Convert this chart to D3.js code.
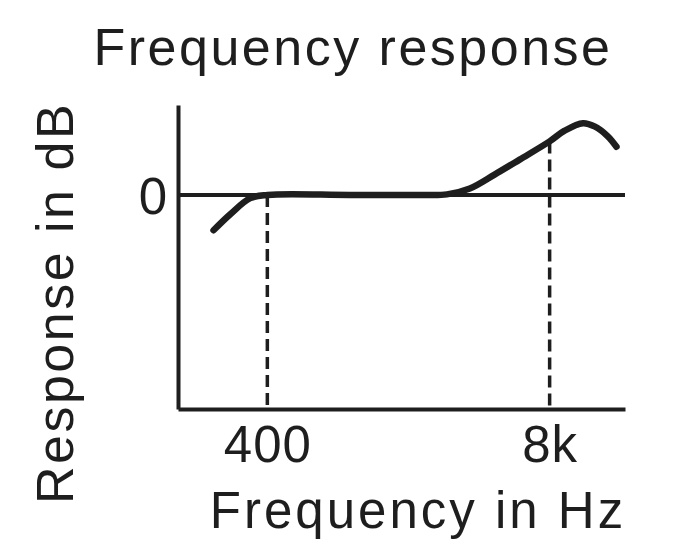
<!DOCTYPE html>
<html>
<head>
<meta charset="utf-8">
<script src="https://cdn.jsdelivr.net/npm/d3@7"></script>
<style>
	body { margin: 0; background: #fff; }
	text { font-family: "Liberation Sans", Arial, sans-serif; fill: #1e1e1e; }
	.axis path { stroke: #1e1e1e; stroke-width: 4; }
	.axis text { font-size: 51px; letter-spacing: 1px; }
</style>
</head>
<body>
<div id="chart"></div>
<script>
// values (frequency in Hz, response in dB)
var freqs = [226, 270, 334, 400, 960, 2000, 2690, 3430, 4460, 5820, 8000, 9380, 11400, 12880, 14790, 16260];
var responseDb = [-3.3, -1.8, -0.3, 0, 0, 0, 0.05, 0.6, 1.9, 3.3, 5.0, 6.0, 6.7, 6.4, 5.5, 4.5];
var markedFreqs = [400, 8000];
var markedLabels = ['400', '8k'];

var width = 675, height = 544;
var margin = {top: 105, right: 50, bottom: 135, left: 178};
var chartWidth = width - margin.left - margin.right;
var chartHeight = height - margin.top - margin.bottom;

var svg = d3.select('#chart').append('svg')
	.attr('width', width)
	.attr('height', height);

var g = svg.append('g')
	.attr('transform', `translate(${margin.left}, ${margin.top})`);

var xScale = d3.scaleLog()
	.domain([155, 17800])
	.range([0, chartWidth]);

var yScale = d3.scaleLinear()
	.domain([-20, 8.4])
	.range([chartHeight, 0]);

var points = freqs.map((f, i) => ({f: f, db: responseDb[i]}));

// axes, no tick marks
var xAxis = d3.axisBottom(xScale)
	.tickValues(markedFreqs)
	.tickFormat((d, i) => markedLabels[i])
	.tickSize(0)
	.tickSizeOuter(0);
var yAxis = d3.axisLeft(yScale)
	.tickValues([0])
	.tickSize(0)
	.tickSizeOuter(0);

var xg = g.append('g')
	.attr('class', 'x axis')
	.attr('transform', `translate(0, ${chartHeight})`)
	.call(xAxis);
xg.selectAll('text').attr('dy', 0).attr('y', 53);

var yg = g.append('g')
	.attr('class', 'y axis')
	.call(yAxis);
yg.selectAll('text').attr('x', -10).attr('dy', '0.36em');

// zero line
g.append('line')
	.attr('x1', 0).attr('x2', chartWidth)
	.attr('y1', yScale(0)).attr('y2', yScale(0))
	.attr('stroke', '#1e1e1e').attr('stroke-width', 4);

// dashed markers at 400 Hz and 8 kHz
var interp = d3.scaleLog().domain(freqs).range(responseDb);
g.selectAll('.marker')
	.data(markedFreqs)
	.enter()
	.append('line')
	.attr('class', 'marker')
	.attr('x1', d => xScale(d)).attr('x2', d => xScale(d))
	.attr('y1', d => yScale(Math.max(0, interp(d))))
	.attr('y2', chartHeight)
	.attr('stroke', '#1e1e1e')
	.attr('stroke-width', 3.5)
	.attr('stroke-dasharray', '12,6');

var line = d3.line()
	.x(d => xScale(d.f))
	.y(d => yScale(d.db))
	.curve(d3.curveCatmullRom);

g.append('path')
	.datum(points)
	.attr('d', line)
	.attr('fill', 'none')
	.attr('stroke', '#1e1e1e')
	.attr('stroke-width', 6.5)
	.attr('stroke-linecap', 'round');

// titles
svg.append('text')
	.attr('x', 353).attr('y', 65)
	.attr('text-anchor', 'middle')
	.style('font-size', '52px')
	.style('letter-spacing', '2.5px')
	.text('Frequency response');

svg.append('text')
	.attr('x', 418).attr('y', 528)
	.attr('text-anchor', 'middle')
	.style('font-size', '51px')
	.style('letter-spacing', '3px')
	.text('Frequency in Hz');

svg.append('text')
	.attr('transform', 'translate(73, 303) rotate(-90)')
	.attr('text-anchor', 'middle')
	.style('font-size', '52px')
	.style('letter-spacing', '2.5px')
	.text('Response in dB');
</script>
</body>
</html>
